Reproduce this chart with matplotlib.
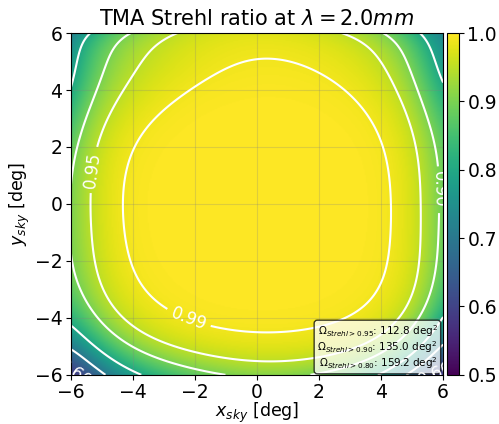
import numpy as np
import matplotlib
matplotlib.use("Agg")
import matplotlib.pyplot as plt
from numpy.polynomial import legendre as L

# grid nodes (deg)
x_nodes = [-6, -5, -4, -3, -2, -1, 0, 1, 2, 3, 4, 5, 6]
y_nodes = [6, 5, 4, 3, 2, 1, 0, -1, -2, -3, -4, -5, -6]

# Strehl ratio read at the grid nodes (rows: y from +6 to -6, cols: x from -6 to +6)
strehl_rows = [
    [0.725, 0.820, 0.905, 0.945, 0.962, 0.972, 0.975, 0.973, 0.963, 0.945, 0.905, 0.820, 0.730],
    [0.770, 0.900, 0.940, 0.963, 0.978, 0.987, 0.991, 0.991, 0.986, 0.973, 0.950, 0.890, 0.770],
    [0.795, 0.915, 0.957, 0.982, 0.992, 0.996, 0.997, 0.997, 0.995, 0.991, 0.966, 0.910, 0.810],
    [0.835, 0.945, 0.978, 0.994, 0.998, 0.999, 0.999, 0.999, 0.998, 0.996, 0.982, 0.950, 0.850],
    [0.885, 0.958, 0.990, 0.997, 0.999, 1.000, 1.000, 1.000, 0.999, 0.998, 0.991, 0.960, 0.875],
    [0.902, 0.965, 0.994, 0.998, 1.000, 1.000, 1.000, 1.000, 1.000, 0.999, 0.994, 0.964, 0.887],
    [0.905, 0.967, 0.995, 0.999, 1.000, 1.000, 1.000, 1.000, 1.000, 0.999, 0.995, 0.965, 0.893],
    [0.903, 0.966, 0.994, 0.999, 1.000, 1.000, 1.000, 1.000, 1.000, 0.999, 0.995, 0.964, 0.890],
    [0.898, 0.961, 0.992, 0.998, 0.999, 1.000, 1.000, 1.000, 0.999, 0.998, 0.994, 0.960, 0.875],
    [0.870, 0.952, 0.988, 0.996, 0.998, 0.999, 0.999, 0.999, 0.998, 0.997, 0.993, 0.955, 0.850],
    [0.820, 0.905, 0.955, 0.987, 0.993, 0.995, 0.996, 0.996, 0.994, 0.991, 0.970, 0.915, 0.800],
    [0.735, 0.820, 0.895, 0.935, 0.957, 0.975, 0.980, 0.980, 0.972, 0.955, 0.905, 0.830, 0.710],
    [0.570, 0.700, 0.780, 0.845, 0.880, 0.900, 0.905, 0.905, 0.895, 0.860, 0.790, 0.700, 0.575],
]

contour_levels = [0.6, 0.7, 0.8, 0.9, 0.95, 0.99]
cbar_ticks = [0.5, 0.6, 0.7, 0.8, 0.9, 1.0]
axis_ticks = [-6, -4, -2, 0, 2, 4, 6]
summary_lines = [
    r"$\Omega_{Strehl > 0.95}$: 112.8 deg$^2$",
    r"$\Omega_{Strehl > 0.90}$: 135.0 deg$^2$",
    r"$\Omega_{Strehl > 0.80}$: 159.2 deg$^2$",
]

# smooth surface through the read node values:
# weighted least-squares Legendre surface on r = (-ln S)^(1/4)
X, Y = np.meshgrid(np.array(x_nodes, float), np.array(y_nodes, float))
S = np.clip(np.array(strehl_rows), 0.0, 1.0)
r = (-np.log(S)) ** 0.25
w = np.where(S >= 0.998, 0.3, 1.0).ravel()
deg = 8
V = L.legvander2d(X.ravel() / 6.0, Y.ravel() / 6.0, [deg, deg])
ii, jj = np.meshgrid(np.arange(deg + 1), np.arange(deg + 1), indexing="ij")
keep = ((ii + jj) <= deg).ravel()
Vk = V[:, keep]
sw = np.sqrt(w)
ck, *_ = np.linalg.lstsq(Vk * sw[:, None], r.ravel() * sw, rcond=None)
coef = np.zeros((deg + 1) * (deg + 1))
coef[keep] = ck
coef = coef.reshape(deg + 1, deg + 1)

xi = np.linspace(-6, 6, 301)
yi = np.linspace(-6, 6, 301)
Xi, Yi = np.meshgrid(xi, yi)
ri = np.clip(L.legval2d(Xi / 6.0, Yi / 6.0, coef), 0.0, None)
Zi = np.exp(-ri ** 4)

fig = plt.figure(figsize=(4.99, 4.24), dpi=100)
ax = fig.add_axes([0.142, 0.116, 0.746, 0.806])
cax = fig.add_axes([0.896, 0.116, 0.024, 0.806])

im = ax.imshow(Zi, extent=[-6, 6, -6, 6], origin="lower", cmap="viridis",
               vmin=0.5, vmax=1.0, aspect="auto", interpolation="bilinear")
cs = ax.contour(Xi, Yi, Zi, levels=contour_levels, colors="white", linewidths=1.5)
ax.clabel(cs, fmt="%.2f", fontsize=12, inline=True,
          manual=[(-5.3, 1.2), (-2.3, -4.3), (5.9, 0.5), (-5.8, -5.85), (5.7, -5.85)])

ax.grid(True, color="gray", alpha=0.25, linewidth=0.8)
ax.set_xlim(-6, 6)
ax.set_ylim(-6, 6)
ax.set_xticks(axis_ticks)
ax.set_yticks(axis_ticks)
ax.tick_params(labelsize=13.5, pad=2.5)
ax.set_xlabel(r"$x_{sky}$ [deg]", fontsize=12.5, labelpad=-1)
ax.set_ylabel(r"$y_{sky}$ [deg]", fontsize=12.5, labelpad=2)
ax.set_title(r"TMA Strehl ratio at $\lambda = 2.0mm$", fontsize=15)

cb = fig.colorbar(im, cax=cax, ticks=cbar_ticks)
cb.ax.tick_params(labelsize=13.5, pad=2.5)

ax.text(0.985, 0.012, "\n".join(summary_lines), transform=ax.transAxes,
        ha="right", va="bottom", fontsize=7.5, linespacing=1.0,
        bbox=dict(boxstyle="round,pad=0.3", facecolor="white", alpha=0.75, edgecolor="black"))

fig.savefig("out.png", dpi=100)
